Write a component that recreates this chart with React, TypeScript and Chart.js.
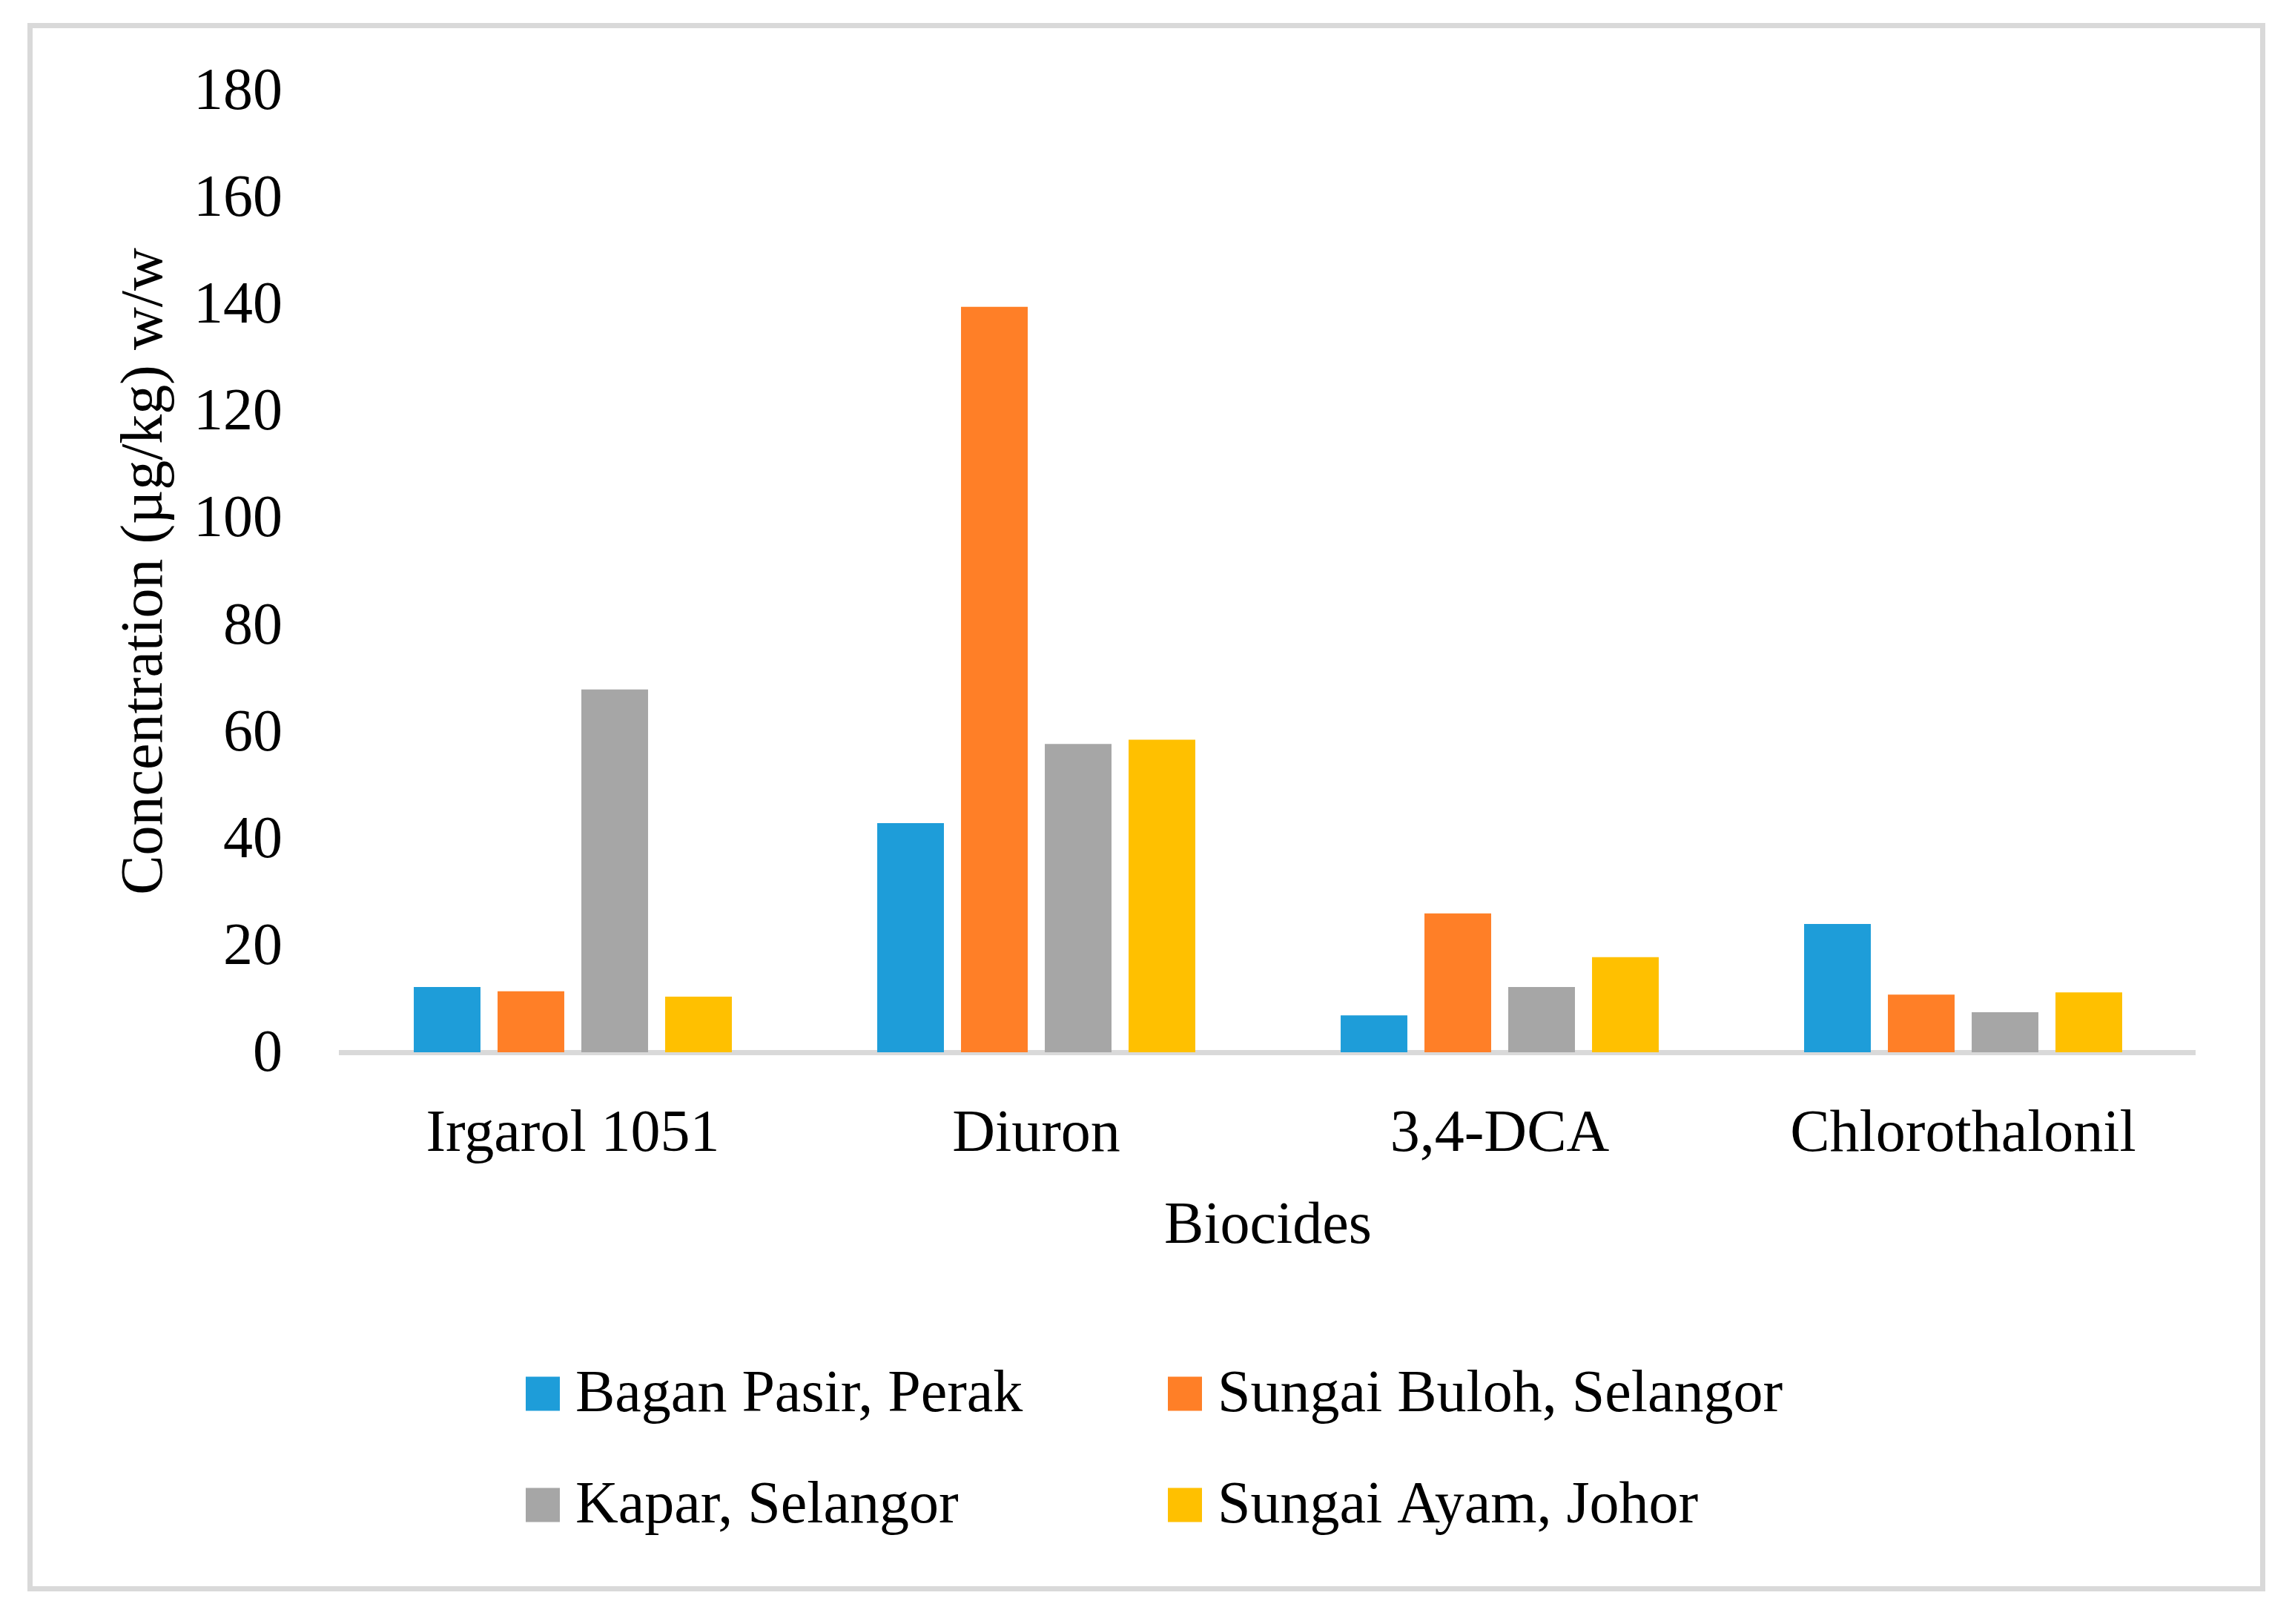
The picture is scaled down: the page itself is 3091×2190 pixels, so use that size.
import React, { useEffect, useRef } from "react";
import { Chart, registerables } from "chart.js";

Chart.register(...registerables);

const categories = ["Irgarol 1051", "Diuron", "3,4-DCA", "Chlorothalonil"];
const seriesNames = [
  "Bagan Pasir, Perak",
  "Sungai Buloh, Selangor",
  "Kapar, Selangor",
  "Sungai Ayam, Johor",
];
const baganPasir = [12.2, 42.9, 6.9, 24.0];
const sungaiBuloh = [11.4, 139.5, 26.0, 10.8];
const kapar = [67.9, 57.7, 12.2, 7.5];
const sungaiAyam = [10.4, 58.5, 17.8, 11.2];
const yTickValues = [0, 20, 40, 60, 80, 100, 120, 140, 160, 180];

const seriesColors = ["#1E9DD9", "#FF7F27", "#A6A6A6", "#FFC000"];
const FONT = '"Liberation Serif", "Times New Roman", serif';

const gridLegend = {
  id: "gridLegend",
  afterDraw(chart: any) {
    const ctx = chart.ctx;
    ctx.save();
    const colX = [709, 1575];
    const rowY = [1879.5, 2029.5];
    const box = 46;
    chart.data.datasets.forEach((ds: any, i: number) => {
      const x = colX[i % 2];
      const cy = rowY[Math.floor(i / 2)];
      ctx.fillStyle = ds.backgroundColor;
      ctx.fillRect(x, cy - box / 2, box, box);
      ctx.fillStyle = "#000000";
      ctx.font = `80px ${FONT}`;
      ctx.textAlign = "left";
      ctx.textBaseline = "middle";
      ctx.fillText(ds.label, x + box + 21, cy + 2);
    });
    ctx.restore();
  },
};

export default function App() {
  const canvasRef = useRef<HTMLCanvasElement | null>(null);

  useEffect(() => {
    if (!canvasRef.current) return;
    const allSeries = [baganPasir, sungaiBuloh, kapar, sungaiAyam];
    const chart = new Chart(canvasRef.current, {
      type: "bar",
      data: {
        labels: categories,
        datasets: allSeries.map((values, i) => ({
          label: seriesNames[i],
          data: values,
          backgroundColor: seriesColors[i],
          borderWidth: 0,
          categoryPercentage: 0.7232,
          barPercentage: 0.796,
        })),
      },
      plugins: [gridLegend],
      options: {
        animation: false,
        responsive: true,
        maintainAspectRatio: false,
        devicePixelRatio: 1,
        layout: { padding: { left: 40, right: 131, top: 122, bottom: 487 } },
        plugins: {
          legend: { display: false },
          tooltip: { enabled: false },
        },
        scales: {
          x: {
            z: 1,
            grid: { display: false, drawTicks: false },
            border: { display: true, color: "#D9D9D9", width: 7 },
            ticks: {
              color: "#000000",
              font: { family: FONT, size: 80 },
              padding: 64,
              maxRotation: 0,
              autoSkip: false,
            },
            title: {
              display: true,
              text: "Biocides",
              color: "#000000",
              font: { family: FONT, size: 80 },
              padding: { top: 0, bottom: 0 },
            },
            afterFit(scale: any) {
              scale.height = 284;
              scale.paddingLeft = 0;
              scale.paddingRight = 0;
            },
          },
          y: {
            min: 0,
            max: 180,
            grid: { display: false, drawTicks: false },
            border: { display: false },
            afterBuildTicks(scale: any) {
              scale.ticks = yTickValues.map((v) => ({ value: v }));
            },
            ticks: {
              color: "#000000",
              font: { family: FONT, size: 80 },
              padding: 79,
              labelOffset: 4,
            },
            title: {
              display: true,
              text: "Concentration (µg/kg) w/w",
              color: "#000000",
              font: { family: FONT, size: 80 },
              padding: { top: 109, bottom: 0 },
            },
            afterFit(scale: any) {
              scale.width = 420;
              scale.paddingTop = 0;
              scale.paddingBottom = 0;
            },
          },
        },
      },
    });
    return () => chart.destroy();
  }, []);

  return (
    <div
      style={{
        position: "absolute",
        left: 0,
        top: 0,
        width: 3091,
        height: 2190,
        background: "#ffffff",
        overflow: "hidden",
      }}
    >
      <div
        style={{
          position: "absolute",
          left: 37,
          top: 31,
          width: 3018,
          height: 2115,
          boxSizing: "border-box",
          border: "7px solid #D9D9D9",
        }}
      />
      <canvas
        ref={canvasRef}
        style={{ position: "absolute", left: 0, top: 0, width: 3091, height: 2190 }}
      />
    </div>
  );
}
